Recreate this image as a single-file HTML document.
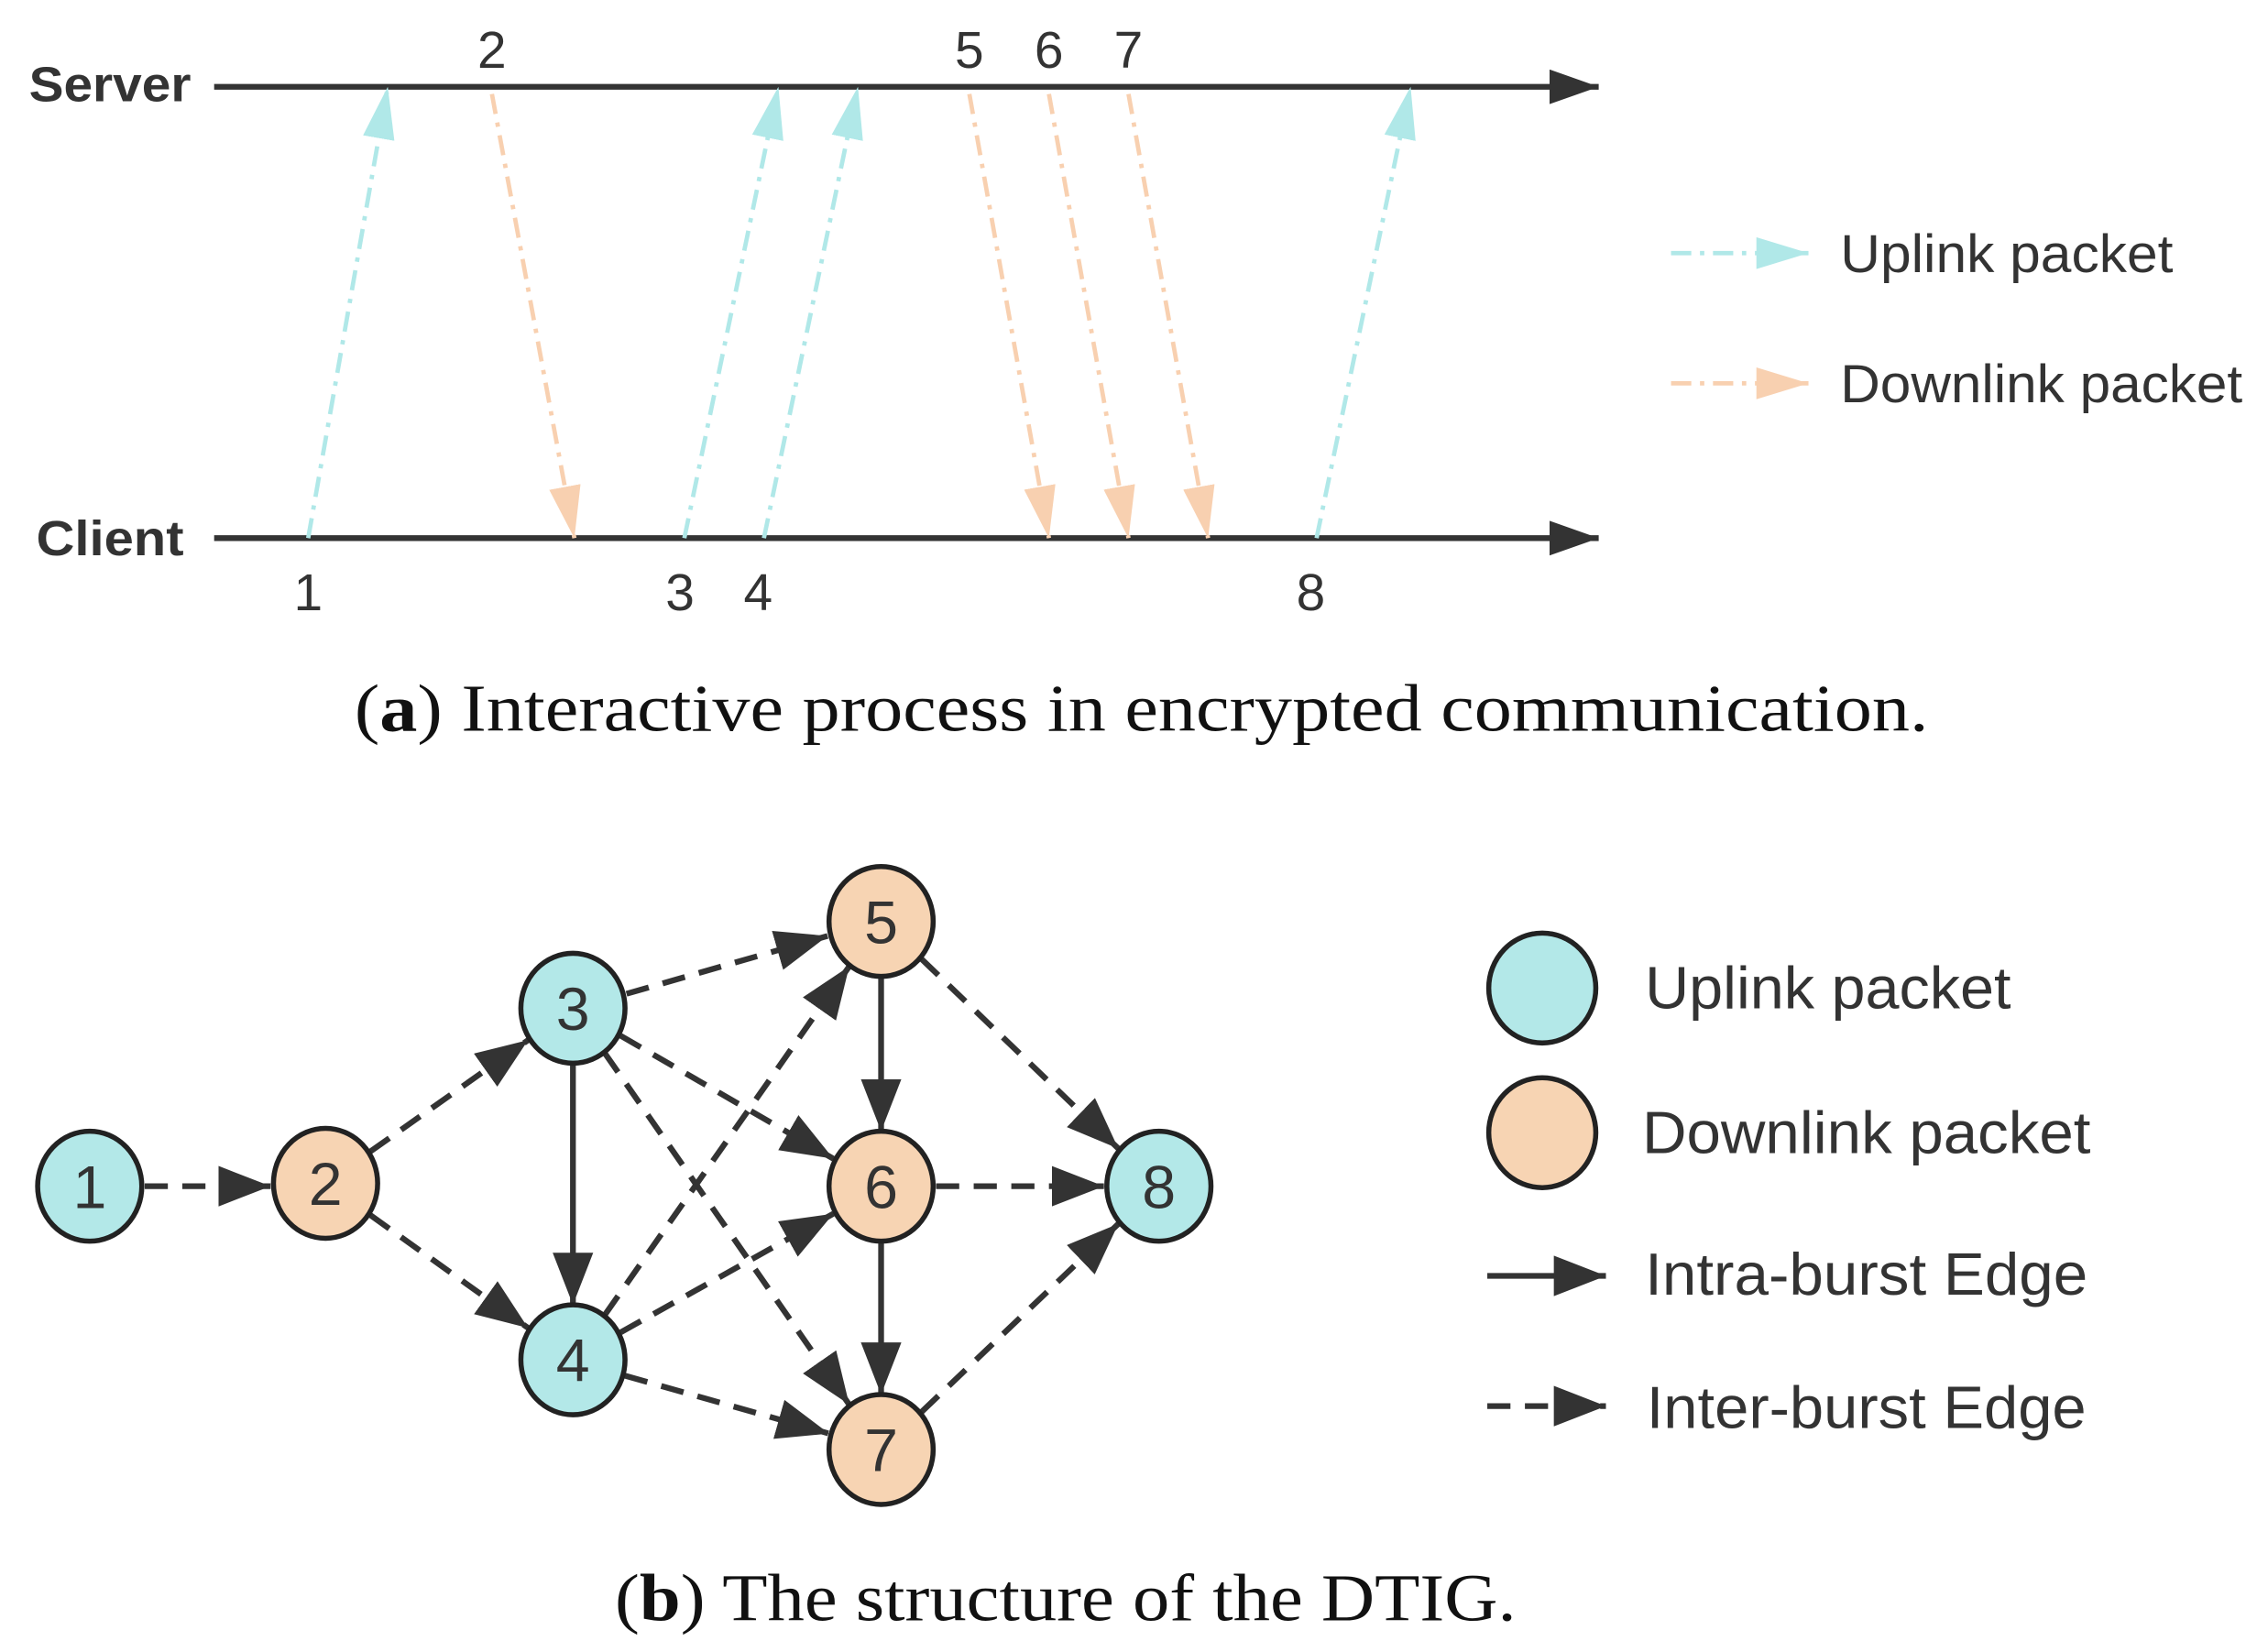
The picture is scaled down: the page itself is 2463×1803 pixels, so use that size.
<!DOCTYPE html>
<html><head><meta charset="utf-8"><style>html,body{margin:0;padding:0;background:#fff}svg{display:block}</style></head>
<body>
<svg width="2463" height="1803" viewBox="0 0 1560 1142" xmlns="http://www.w3.org/2000/svg">
<defs>
<marker id="ak" markerUnits="userSpaceOnUse" markerWidth="44" markerHeight="34" refX="36" refY="14" orient="auto"><path d="M0,0 L36,14 L0,28 Z" fill="#333"/></marker>
<marker id="ac" markerUnits="userSpaceOnUse" markerWidth="40" markerHeight="30" refX="36" refY="11" orient="auto"><path d="M0,0 L36,11 L0,22 Z" fill="#b0e8e8"/></marker>
<marker id="ap" markerUnits="userSpaceOnUse" markerWidth="40" markerHeight="30" refX="36" refY="11" orient="auto"><path d="M0,0 L36,11 L0,22 Z" fill="#f8d0b0"/></marker>
<marker id="ag" markerUnits="userSpaceOnUse" markerWidth="40" markerHeight="30" refX="34" refY="12" orient="auto"><path d="M0,0 L34,12 L0,24 Z" fill="#333"/></marker>
</defs>
<g font-family="Liberation Sans, DejaVu Sans, sans-serif">
<line x1="148" y1="60" x2="1105" y2="60" stroke="#333" stroke-width="4" marker-end="url(#ag)"/>
<line x1="148" y1="372" x2="1105" y2="372" stroke="#333" stroke-width="4" marker-end="url(#ag)"/>
<text x="20" y="70" font-size="34" font-weight="bold" fill="#333" textLength="112" lengthAdjust="spacingAndGlyphs">Server</text>
<text x="25" y="384" font-size="34" font-weight="bold" fill="#333" textLength="102" lengthAdjust="spacingAndGlyphs">Client</text>
<g stroke-width="3" stroke-dasharray="14 6 3 6" fill="none">
<line x1="213" y1="372" x2="268" y2="60" stroke="#b0e8e8" marker-end="url(#ac)"/>
<line x1="473" y1="372" x2="538" y2="60" stroke="#b0e8e8" marker-end="url(#ac)"/>
<line x1="528" y1="372" x2="593" y2="60" stroke="#b0e8e8" marker-end="url(#ac)"/>
<line x1="910" y1="372" x2="975" y2="60" stroke="#b0e8e8" marker-end="url(#ac)"/>
<line x1="340" y1="65" x2="397" y2="372" stroke="#f8d0b0" marker-end="url(#ap)"/>
<line x1="670" y1="65" x2="725" y2="372" stroke="#f8d0b0" marker-end="url(#ap)"/>
<line x1="725" y1="65" x2="780" y2="372" stroke="#f8d0b0" marker-end="url(#ap)"/>
<line x1="780" y1="65" x2="835" y2="372" stroke="#f8d0b0" marker-end="url(#ap)"/>
<line x1="1155" y1="175" x2="1250" y2="175" stroke="#b0e8e8" marker-end="url(#ac)"/>
<line x1="1155" y1="265" x2="1250" y2="265" stroke="#f8d0b0" marker-end="url(#ap)"/>
</g>
<g font-size="36" fill="#333" text-anchor="middle">
<text x="340" y="47">2</text><text x="670" y="47">5</text><text x="725" y="47">6</text><text x="780" y="47">7</text>
<text x="213" y="422">1</text><text x="470" y="422">3</text><text x="524" y="422">4</text><text x="906" y="422">8</text>
</g>
<text x="1272" y="188" font-size="37" fill="#333" textLength="230" lengthAdjust="spacingAndGlyphs">Uplink packet</text>
<text x="1272" y="278" font-size="37" fill="#333" textLength="278" lengthAdjust="spacingAndGlyphs">Downlink packet</text>
</g>
<text x="245" y="505" font-size="46" font-family="Liberation Serif, serif" fill="#111" textLength="1088" lengthAdjust="spacingAndGlyphs">(<tspan font-weight="bold">a</tspan>) Interactive process in encrypted communication.</text>

<g stroke="#333" stroke-width="4" fill="none">
<g stroke-dasharray="16 10">
<line x1="100" y1="820" x2="187" y2="820" marker-end="url(#ak)"/>
<line x1="256" y1="796" x2="365" y2="719" marker-end="url(#ak)"/>
<line x1="256" y1="840" x2="365" y2="918" marker-end="url(#ak)"/>
<line x1="433" y1="687" x2="572" y2="647" marker-end="url(#ak)"/>
<line x1="429" y1="716" x2="576" y2="801" marker-end="url(#ak)"/>
<line x1="418" y1="728" x2="587" y2="971" marker-end="url(#ak)"/>
<line x1="418" y1="909" x2="587" y2="668" marker-end="url(#ak)"/>
<line x1="429" y1="921" x2="576" y2="839" marker-end="url(#ak)"/>
<line x1="432" y1="951" x2="573" y2="991" marker-end="url(#ak)"/>
<line x1="637" y1="663" x2="773" y2="794" marker-end="url(#ak)"/>
<line x1="647" y1="820" x2="763" y2="820" marker-end="url(#ak)"/>
<line x1="637" y1="976" x2="773" y2="846" marker-end="url(#ak)"/>
<line x1="1028" y1="972" x2="1110" y2="972" marker-end="url(#ak)"/>
</g>
<line x1="396" y1="735" x2="396" y2="902" marker-end="url(#ak)"/>
<line x1="609" y1="675" x2="609" y2="782" marker-end="url(#ak)"/>
<line x1="609" y1="858" x2="609" y2="964" marker-end="url(#ak)"/>
<line x1="1028" y1="882" x2="1110" y2="882" marker-end="url(#ak)"/>
</g>
<g stroke="#222" stroke-width="3.5">
<ellipse cx="62" cy="820" rx="36" ry="38" fill="#b3e8e8"/>
<ellipse cx="225" cy="818" rx="36" ry="38" fill="#f7d4b3"/>
<ellipse cx="396" cy="697" rx="36" ry="38" fill="#b3e8e8"/>
<ellipse cx="396" cy="940" rx="36" ry="38" fill="#b3e8e8"/>
<ellipse cx="609" cy="637" rx="36" ry="38" fill="#f7d4b3"/>
<ellipse cx="609" cy="820" rx="36" ry="38" fill="#f7d4b3"/>
<ellipse cx="609" cy="1002" rx="36" ry="38" fill="#f7d4b3"/>
<ellipse cx="801" cy="820" rx="36" ry="38" fill="#b3e8e8"/>
<ellipse cx="1066" cy="683" rx="37" ry="38" fill="#b3e8e8"/>
<ellipse cx="1066" cy="783" rx="37" ry="38" fill="#f7d4b3"/>
</g>
<g font-family="Liberation Sans, DejaVu Sans, sans-serif" font-size="42" fill="#333" text-anchor="middle">
<text x="62" y="835">1</text><text x="225" y="833">2</text><text x="396" y="712">3</text><text x="396" y="955">4</text>
<text x="609" y="652">5</text><text x="609" y="835">6</text><text x="609" y="1017">7</text><text x="801" y="835">8</text>
</g>
<g font-family="Liberation Sans, DejaVu Sans, sans-serif" font-size="41" fill="#333">
<text x="1137" y="697" textLength="253" lengthAdjust="spacingAndGlyphs">Uplink packet</text>
<text x="1135" y="797" textLength="310" lengthAdjust="spacingAndGlyphs">Downlink packet</text>
<text x="1137" y="895" textLength="306" lengthAdjust="spacingAndGlyphs">Intra-burst Edge</text>
<text x="1138" y="987" textLength="304" lengthAdjust="spacingAndGlyphs">Inter-burst Edge</text>
</g>
<text x="425" y="1120" font-size="46" font-family="Liberation Serif, serif" fill="#111" textLength="623" lengthAdjust="spacingAndGlyphs">(<tspan font-weight="bold">b</tspan>) The structure of the DTIG.</text>
</svg>
</body></html>
